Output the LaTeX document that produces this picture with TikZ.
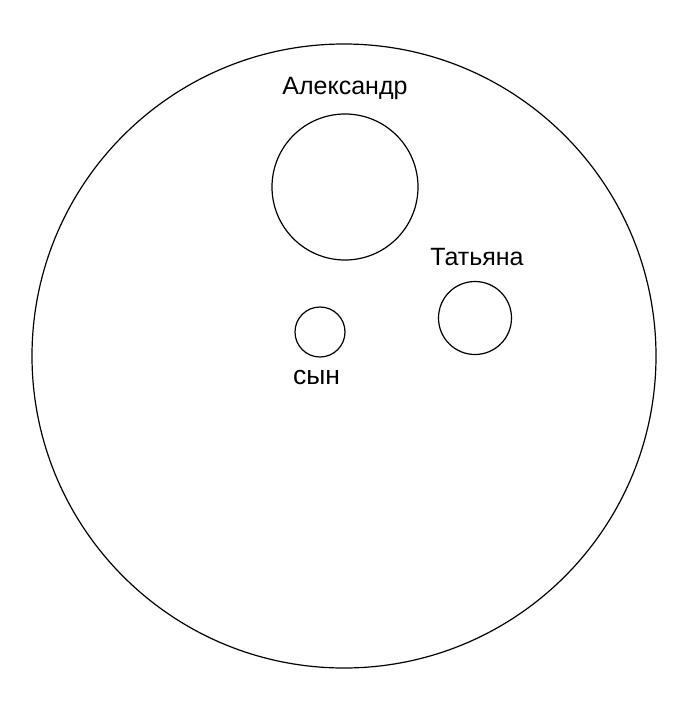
\documentclass[tikz,border=0pt]{standalone}
\usepackage{fontspec}
\setmainfont{Liberation Sans}
\begin{document}
\begin{tikzpicture}[x=1pt,y=-1pt,
  ring/.style={circle,draw=black,line width=1.2pt,inner sep=0pt},
  lbl/.style={font=\fontsize{25}{30}\selectfont,text=black,inner sep=0pt}]
\useasboundingbox[fill=white] (0,0) rectangle (683,707);
\node[ring,minimum size=624pt] (outer) at (344,356) {};
\node[ring,minimum size=146pt] (alex) at (345,187) {};
\node[ring,minimum size=50pt] (son) at (320,332) {};
\node[ring,minimum size=73pt] (tat) at (475,318) {};
\node[lbl,anchor=base] (alexl) at (345,94) {Александр};
\node[lbl,anchor=base] (tatl) at (477,265) {Татьяна};
\node[lbl,anchor=base,font=\fontsize{26.5}{30}\selectfont] (sonl) at (316.5,384.5) {сын};
\end{tikzpicture}
\end{document}
